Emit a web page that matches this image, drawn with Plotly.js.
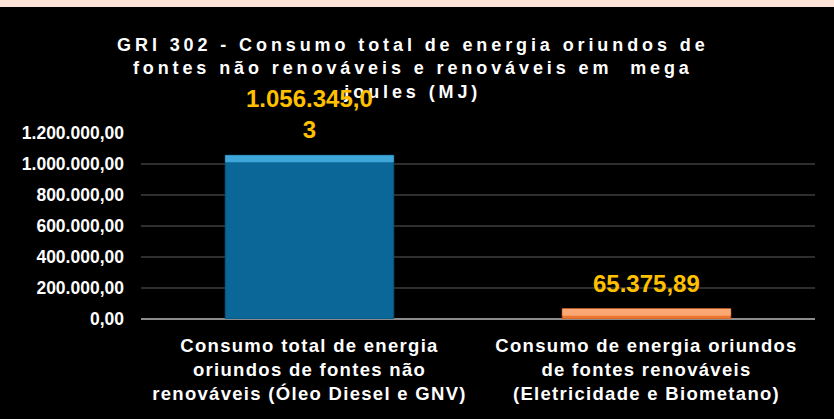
<!DOCTYPE html>
<html>
<head>
<meta charset="utf-8">
<script src="https://cdn.plot.ly/plotly-3.0.1.min.js"></script>
<style>
  html, body { margin: 0; padding: 0; background: #000; overflow: hidden; }
  #chart { width: 834px; height: 419px; }
  #strip { position: absolute; left: 0; top: 0; width: 834px; height: 7px; background: #fde4d8; z-index: 5; }
  .gtitle { letter-spacing: 3.9px; }
  .xtick text { letter-spacing: 1.3px; }
</style>
</head>
<body>
<div id="strip"></div>
<div id="chart"></div>
<script>
const categories = [
  "Consumo total de energia<br>oriundos de fontes não<br>renováveis (Óleo Diesel e GNV)",
  "Consumo de energia oriundos<br>de fontes renováveis<br>(Eletricidade e Biometano)"
];
const values = [1056345.03, 65375.89];
const valueLabels = ["1.056.345,0<br>3", "65.375,89"];
const tickValues = [0, 200000, 400000, 600000, 800000, 1000000, 1200000];
const titleText = "GRI 302 - Consumo total de energia oriundos de<br>fontes não renováveis e renováveis em  mega<br>joules (MJ)";

const barColors = ["#0b6797", "#ee7630"];
const barEdge = ["#08557c", "#c85a1c"];
const bevelColors = ["#3ea6d8", "#fba874"];
const idx = categories.map((c, i) => i);
const barWidth = 0.5;

const trace = {
  type: "bar",
  x: idx,
  y: values,
  width: barWidth,
  marker: { color: barColors, line: { color: barEdge, width: 1 } },
  hoverinfo: "skip"
};

const annotations = idx.map(i => ({
  x: i, y: values[i], xref: "x", yref: "y",
  text: valueLabels[i], showarrow: false,
  yanchor: "bottom", yshift: 10,
  font: { family: "Liberation Sans, Arial, sans-serif", size: 24, color: "#FFC000", weight: "bold" }
}));

const shapes = idx.map(i => ({
  type: "rect", xref: "x", yref: "y",
  x0: i - barWidth / 2, x1: i + barWidth / 2,
  ysizemode: "pixel", yanchor: values[i], y0: -7, y1: 0,
  fillcolor: bevelColors[i], line: { width: 0 }, layer: "above"
}));

const layout = {
  width: 834, height: 419,
  paper_bgcolor: "#000", plot_bgcolor: "#000",
  margin: { l: 141, r: 19, t: 133, b: 100, pad: 0 },
  separators: ",.",
  showlegend: false,
  title: {
    text: titleText,
    xref: "container", yref: "container",
    x: 0.495, xanchor: "center",
    y: 1 - 51 / 419, yanchor: "top",
    font: { family: "Liberation Sans, Arial, sans-serif", size: 18, color: "#ffffff", weight: "bold" }
  },
  xaxis: {
    tickmode: "array", tickvals: idx, ticktext: categories,
    range: [-0.5, categories.length - 0.5],
    showgrid: false, zeroline: false, showline: false, ticks: "",
    ticklabelstandoff: 13,
    tickfont: { family: "Liberation Sans, Arial, sans-serif", size: 18.5, color: "#ffffff", weight: "bold" }
  },
  yaxis: {
    range: [0, 1200000],
    tickmode: "array", tickvals: tickValues,
    tickformat: ",.2f",
    showgrid: true, gridcolor: "#2e2e2e", gridwidth: 1.5,
    zeroline: true, zerolinecolor: "#8c8c8c", zerolinewidth: 2.5,
    showline: false, ticks: "",
    ticklabelstandoff: 16,
    tickfont: { family: "Liberation Sans, Arial, sans-serif", size: 17.5, color: "#ffffff", weight: "bold" }
  },
  annotations: annotations,
  shapes: shapes
};

Plotly.newPlot("chart", [trace], layout, { displayModeBar: false, staticPlot: true });
</script>
</body>
</html>
